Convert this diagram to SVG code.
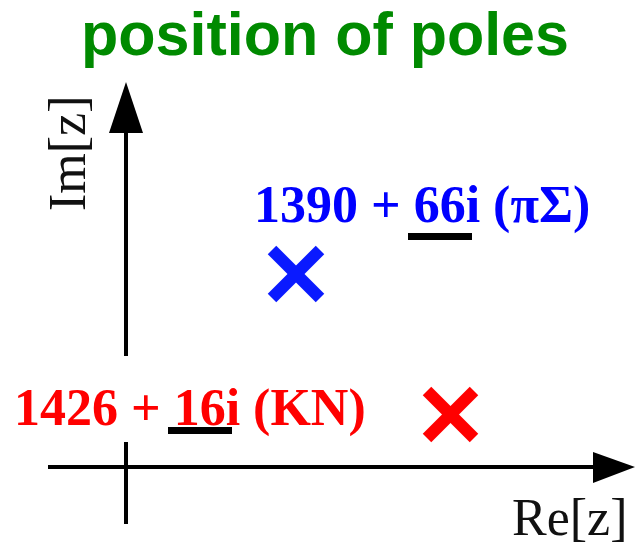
<svg xmlns="http://www.w3.org/2000/svg" width="635" height="547" viewBox="0 0 635 547">
<style>
.ax{stroke:#000;stroke-width:4;fill:none}
.head{fill:#000}
.lbl{font-family:"Liberation Serif","Times New Roman",serif;font-size:52px;fill:#111}
.pole{font-family:"Liberation Serif","Times New Roman",serif;font-size:52px;font-weight:bold}
.cross{stroke-width:12;stroke-linecap:butt}
</style>
<rect width="635" height="547" fill="#fff"/>
<g id="title"><text x="325" y="55" text-anchor="middle" font-family="'Liberation Sans',Arial,sans-serif" font-weight="bold" font-size="61" fill="#008a00">position of poles</text></g>
<g id="connectors">
<line class="ax" x1="126" y1="130" x2="126" y2="356"/>
<line class="ax" x1="126" y1="442" x2="126" y2="524"/>
<polygon class="head" points="126,82 109,133 143,133"/>
<line class="ax" x1="48" y1="467" x2="596" y2="467"/>
<polygon class="head" points="635,467 593,452 593,483"/>
</g>
<g id="im-label"><text class="lbl" transform="translate(85,211) rotate(-90)">Im[z]</text></g>
<g id="re-label"><text class="lbl" x="512" y="535" font-size="51">Re[z]</text></g>
<g id="pole-pisigma">
<text class="pole" x="254" y="222" fill="#0000ff">1390 + 66i (πΣ)</text>
<rect x="408" y="233" width="64" height="7" fill="#000"/>
<g class="cross" stroke="#0a1aff">
<line x1="272" y1="250" x2="320" y2="298"/>
<line x1="320" y1="250" x2="272" y2="298"/>
</g>
</g>
<g id="pole-kn">
<text class="pole" x="14" y="425" fill="#ff0000" font-size="53">1426 + 16i (KN)</text>
<rect x="168" y="427" width="64" height="7" fill="#000"/>
<g class="cross" stroke="#ff0000">
<line x1="427" y1="391" x2="474" y2="438"/>
<line x1="474" y1="391" x2="427" y2="438"/>
</g>
</g>
</svg>
